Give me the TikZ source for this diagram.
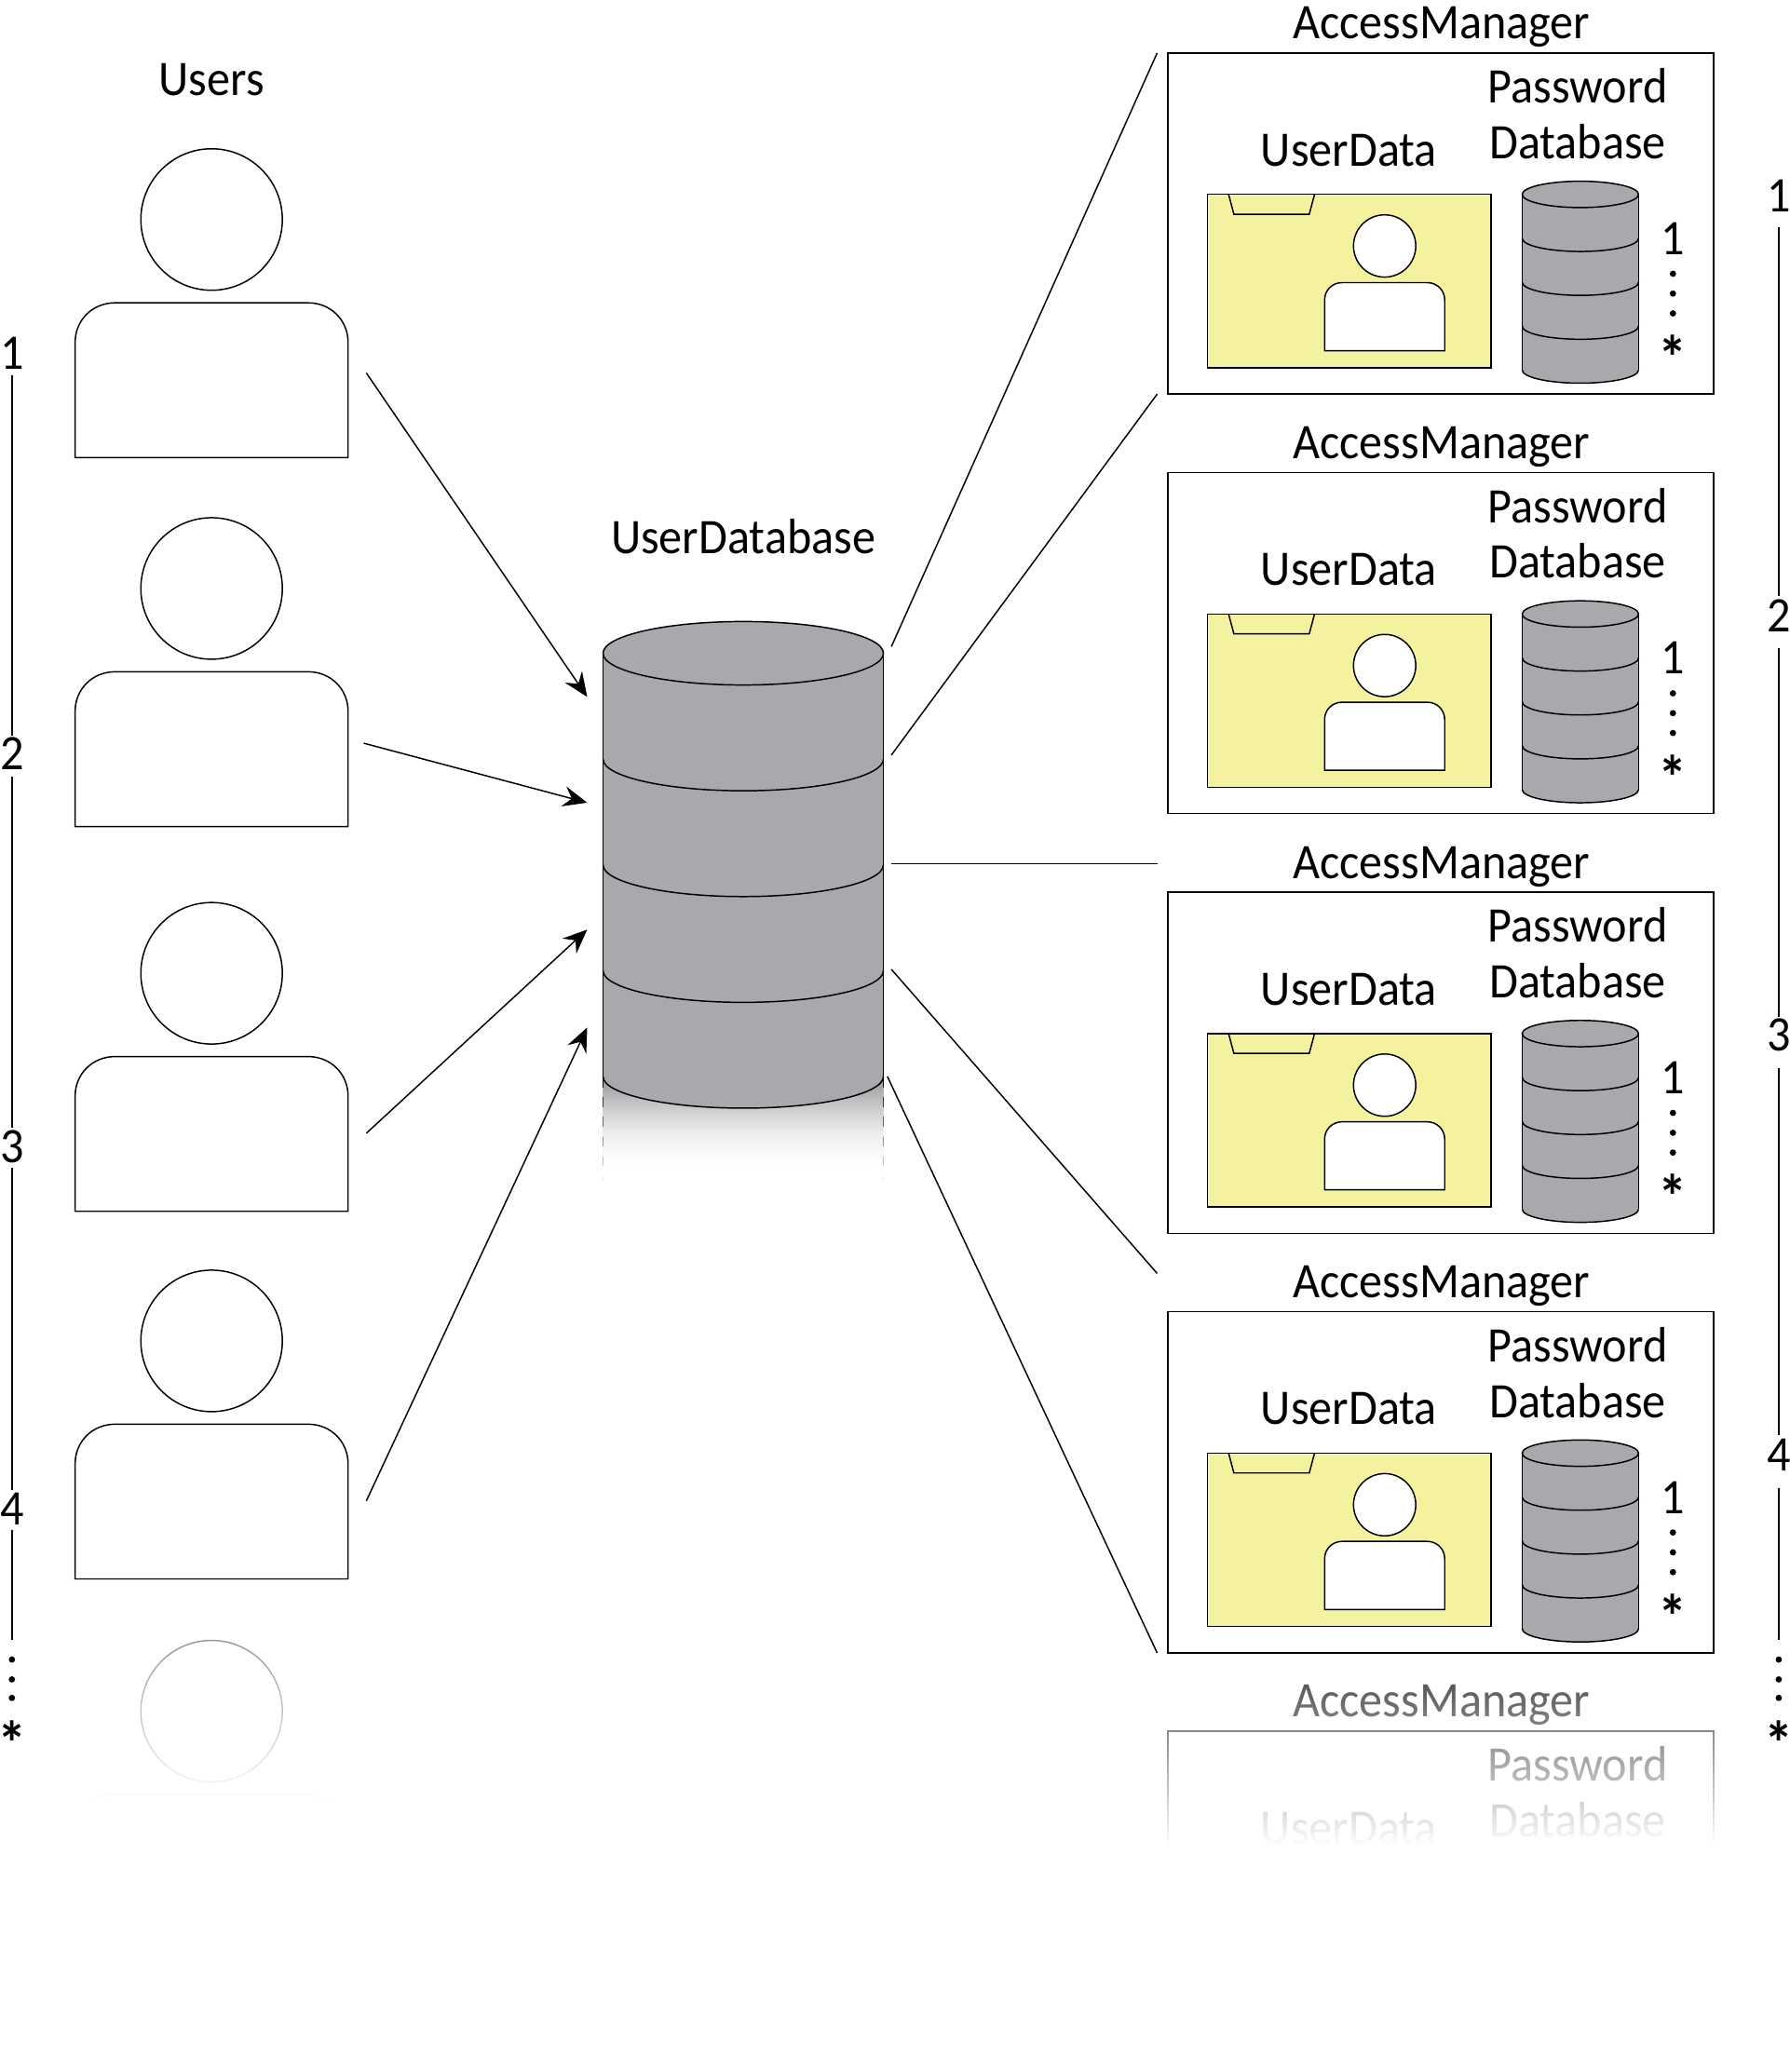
\documentclass[tikz,border=0pt]{standalone}
\usepackage{fontspec}
\setmainfont[FakeStretch=0.94]{Carlito}
\usetikzlibrary{arrows.meta}
\usetikzlibrary{fadings}

\definecolor{dbgray}{HTML}{A7A9AC}
\definecolor{foldery}{HTML}{F5F29F}

\tikzfading[name=fadeuser, top color=transparent!45, middle color=transparent!5, bottom color=transparent!0]
\tikzfading[name=fademgr, top color=transparent!70, middle color=transparent!15, bottom color=transparent!0]
\tikzfading[name=fadedb, top color=transparent!100, bottom color=transparent!0]

\tikzset{
	thin line/.style={line width=0.42pt},
	lbl/.style={font=\fontsize{15.2}{18}\selectfont, inner sep=0pt, anchor=base},
	starlbl/.style={font=\fontsize{19}{20}\bfseries\selectfont, inner sep=0pt, anchor=north},
	flowarrow/.style={thin line, -{Stealth[length=0.26cm,width=0.22cm,inset=0.09cm]}},
	% a cylinder cut in four, origin at the centre of its top ellipse
	dbcan/.pic={
		\fill[dbgray] (-106,0) -- (-106,320) .. controls (-106,333.3) and (-58.5,344) .. (0,344)
			.. controls (58.5,344) and (106,333.3) .. (106,320) -- (106,0) -- cycle;
		\foreach \b in {80,160,240,320} {
			\draw[thin line] (-106,\b) .. controls (-106,\b+13.3) and (-58.5,\b+24) .. (0,\b+24)
				.. controls (58.5,\b+24) and (106,\b+13.3) .. (106,\b);
		}
		\draw[thin line] (-106,0) -- (-106,320) (106,0) -- (106,320);
		\draw[thin line,fill=dbgray] (0,0) ellipse[x radius=106,y radius=24];
	},
	% head and shoulders, origin at the centre of the head
	person/.pic={
		\draw[thin line,fill=white] (0,0) circle[radius=53.5];
		\draw[thin line,fill=white] (-103.2,180) -- (-103.2,93) .. controls (-103.2,76) and (-90,63) .. (-73,63)
			-- (73,63) .. controls (90,63) and (103.2,76) .. (103.2,93) -- (103.2,180) -- cycle;
	},
}

\begin{document}
\begin{tikzpicture}[x=0.0142cm,y=-0.0142cm]
	\useasboundingbox (0,0) rectangle (1353.5,1566.9);

	% users
	\node[lbl] (users) at (160,72.5) {Users};
	\foreach \y in {166,445,736,1014} {
		\pic at (160,\y) {person};
	}

	% the last user goes away
	\draw[thin line] (160,1294) circle[radius=53.5];
	\draw[thin line] (56.8,1400) -- (56.8,1387) .. controls (56.8,1370) and (70,1357) .. (87,1357)
		-- (233,1357) .. controls (250,1357) and (263.2,1370) .. (263.2,1387) -- (263.2,1400);
	\fill[white,path fading=fadeuser] (40,1225) rectangle (280,1362);
	\fill[white] (40,1361) rectangle (280,1410);

	% numbers on the left
	\foreach \n/\y in {1/279,2/582,3/879,4/1153} {
		\node[lbl] (leftnum\n) at (9,\y) {\n};
	}
	\draw[thin line] (9,284) -- (9,556) (9,587) -- (9,853) (9,883) -- (9,1127) (9,1157) -- (9,1240);
	\foreach \y in {1255,1270,1284} {
		\fill (9,\y) circle[radius=2.4];
	}
	\node[starlbl] (leftstar) at (9,1301) {*};

	% the user database, with the shadow under it first
	\node[lbl] (userdb) at (562,418.5) {UserDatabase};
	\shade[top color=dbgray!85!black,bottom color=white] (456,812) rectangle (668,882);
	\draw[thin line,dashed] (456,815) -- (456,892) (668,815) -- (668,892);
	\fill[white,path fading=fadedb] (450,815) rectangle (674,898);
	\pic at (562,494) {dbcan};

	% users to database
	\foreach \n/\x/\y/\xx/\yy in {1/277/282/444/527, 2/275/562/444/607, 3/277/857/444/703, 4/277/1135/444/777} {
		\coordinate (userout\n) at (\x,\y);
		\coordinate (dbin\n) at (\xx,\yy);
		\draw[flowarrow] (userout\n) -- (dbin\n);
	}

	% database to managers
	\foreach \n/\x/\y/\xx/\yy in {1/674/489/875/40, 2/674/571/875/298, 3/674/653/875/653, 4/674/733/875/963, 5/671/814/875/1250} {
		\coordinate (dbout\n) at (\x,\y);
		\coordinate (mgrin\n) at (\xx,\yy);
		\draw[thin line] (dbout\n) -- (mgrin\n);
	}

	% access managers
	\foreach \k [evaluate=\k as \m using 317.3*\k] in {0,1,2,3} {
		\begin{scope}[shift={(0,\m)}]
			\draw[thin line] (883,40) rectangle (1295.6,298);
			\node[lbl] (mgr\k) at (1090,29.5) {AccessManager};
			\node[lbl] (pw\k) at (1193,78) {Password};
			\node[lbl] (pwdb\k) at (1193,120) {Database};
			\node[lbl] (udata\k) at (1020,125.5) {UserData};

			% folder
			\draw[thin line,fill=foldery] (913,147) rectangle (1127.6,278);
			\draw[thin line] (929,147) -- (933,162) -- (990,162) -- (994,147);
			\pic[scale=0.44] at (1047,186) {person};

			% small database
			\pic[scale=0.415] at (1195,147) {dbcan};
			\node[lbl] (inone\k) at (1265,192.5) {1};
			\foreach \y in {207,222,237} {
				\fill (1265,\y) circle[radius=2.4];
			}
			\node[starlbl] (instar\k) at (1265,253) {*};
		\end{scope}
	}

	% the last manager goes away
	\node[lbl] (mgr4) at (1090,1298.5) {AccessManager};
	\node[lbl] (pw4) at (1193,1347) {Password};
	\node[lbl] (pwdb4) at (1193,1389) {Database};
	\node[lbl] (udata4) at (1020,1394.5) {UserData};
	\draw[thin line] (883,1400) -- (883,1309) -- (1295.6,1309) -- (1295.6,1400);
	\fill[white,path fading=fademgr] (875,1265) rectangle (1305,1396);
	\fill[white] (875,1395) rectangle (1305,1410);

	% numbers on the right
	\foreach \n/\y in {1/160,2/478,3/795,4/1112} {
		\node[lbl] (rightnum\n) at (1345,\y) {\n};
	}
	\draw[thin line] (1345,172) -- (1345,451) (1345,490) -- (1345,769) (1345,808) -- (1345,1085) (1345,1125) -- (1345,1240);
	\foreach \y in {1255,1270,1284} {
		\fill (1345,\y) circle[radius=2.4];
	}
	\node[starlbl] (rightstar) at (1345,1301) {*};
\end{tikzpicture}
\end{document}
